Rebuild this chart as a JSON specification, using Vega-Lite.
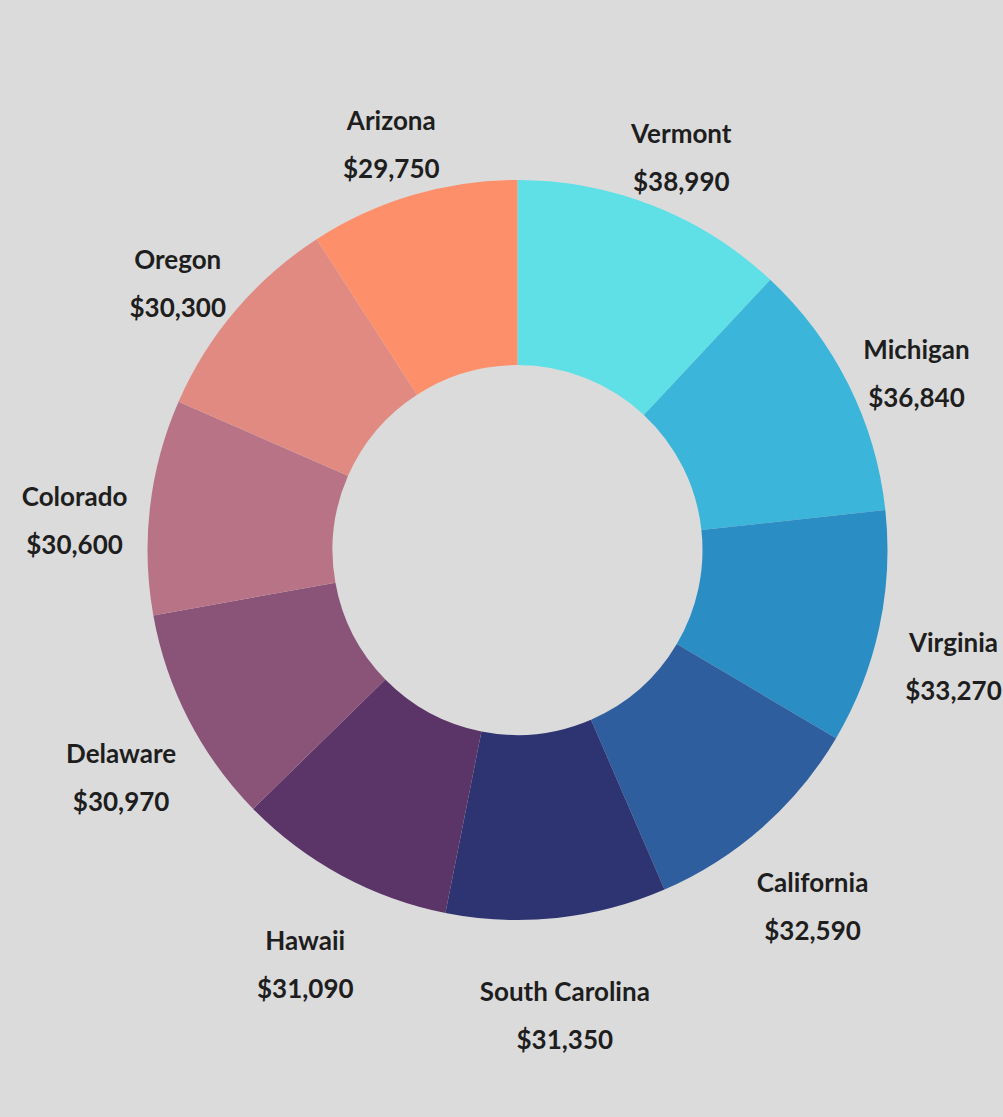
{
  "$schema": "https://vega.github.io/schema/vega-lite/v6.json",
  "width": 1003,
  "height": 1117,
  "autosize": {"type": "fit", "contains": "padding"},
  "padding": {"left": 32, "right": 0, "top": 0, "bottom": 17},
  "background": "#dbdbdb",
  "config": {"view": {"stroke": null}},
  "data": {
    "values": [
      {"i": 1, "state": "Vermont", "value": 38990},
      {"i": 2, "state": "Michigan", "value": 36840},
      {"i": 3, "state": "Virginia", "value": 33270},
      {"i": 4, "state": "California", "value": 32590},
      {"i": 5, "state": "South Carolina", "value": 31350},
      {"i": 6, "state": "Hawaii", "value": 31090},
      {"i": 7, "state": "Delaware", "value": 30970},
      {"i": 8, "state": "Colorado", "value": 30600},
      {"i": 9, "state": "Oregon", "value": 30300},
      {"i": 10, "state": "Arizona", "value": 29750}
    ]
  },
  "transform": [
    {"calculate": "datum.state + '\\n' + format(datum.value, '$,')", "as": "label"}
  ],
  "encoding": {
    "theta": {"field": "value", "type": "quantitative", "stack": true},
    "order": {"field": "i", "type": "quantitative", "sort": "ascending"}
  },
  "layer": [
    {
      "mark": {"type": "arc", "outerRadius": 370, "innerRadius": 185, "stroke": null},
      "encoding": {
        "color": {
          "field": "state",
          "type": "nominal",
          "legend": null,
          "scale": {
            "domain": ["Vermont", "Michigan", "Virginia", "California", "South Carolina", "Hawaii", "Delaware", "Colorado", "Oregon", "Arizona"],
            "range": ["#5fe0e6", "#3bb5d9", "#2a8ec4", "#2e5e9d", "#2e3471", "#5b3468", "#8a5479", "#b87486", "#e08a82", "#fd8f6b"]
          }
        }
      }
    },
    {
      "mark": {
        "type": "text",
        "radius": 446,
        "font": "Lato",
        "fontWeight": "bold",
        "fontSize": 26,
        "lineHeight": 48,
        "lineBreak": "\n",
        "align": "center",
        "baseline": "middle",
        "color": "#1e1e1e"
      },
      "encoding": {
        "text": {"field": "label", "type": "nominal"}
      }
    }
  ]
}
